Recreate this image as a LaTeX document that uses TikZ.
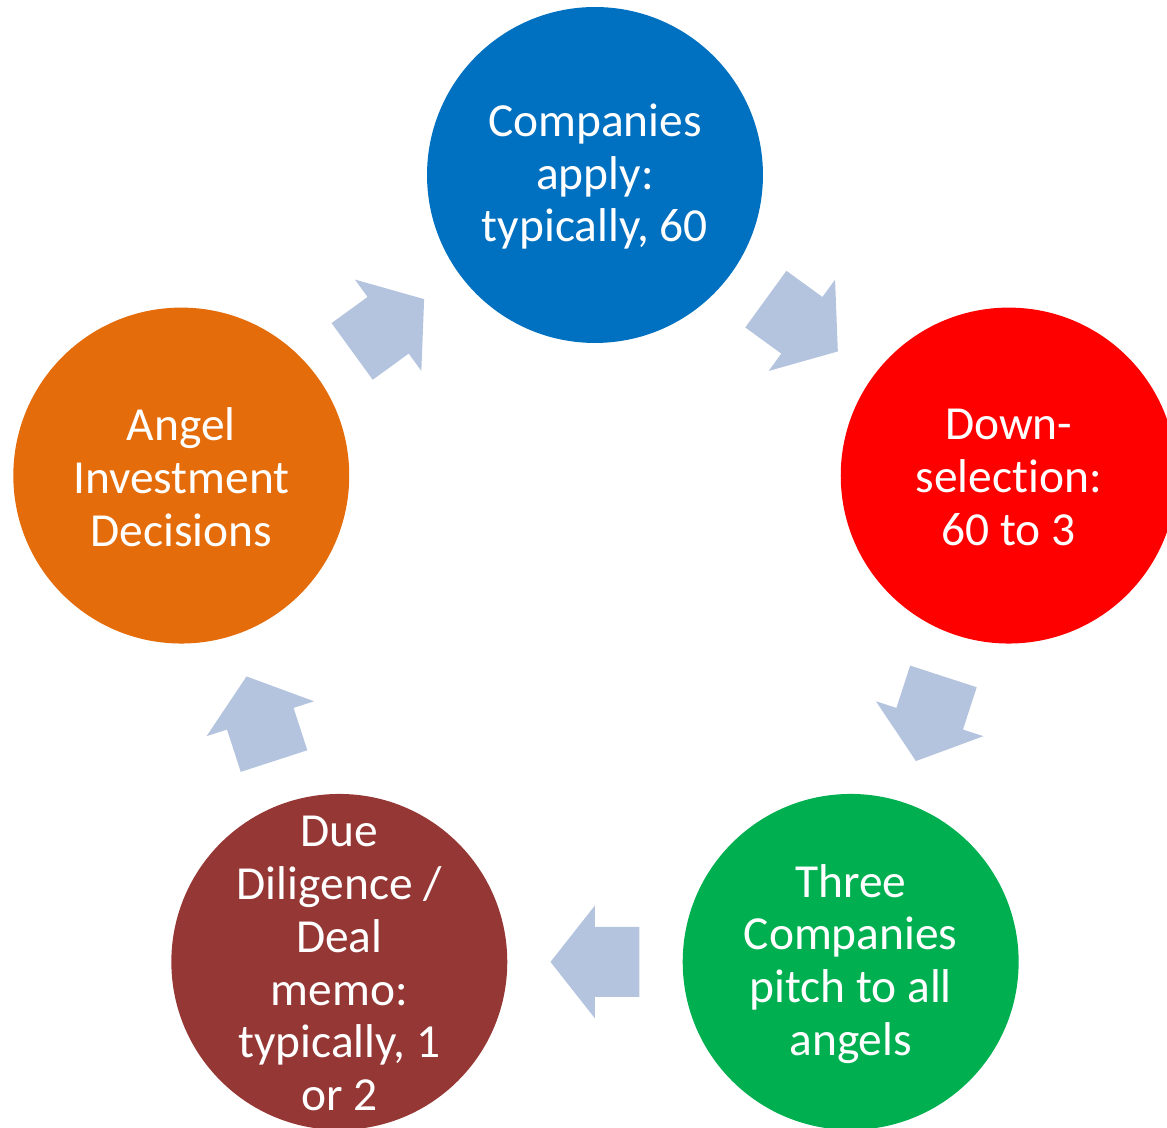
\documentclass[tikz,border=0pt]{standalone}
\usepackage{fontspec}
\setmainfont[Ligatures=NoCommon]{Carlito}
\usetikzlibrary{calc}
\definecolor{applyColor}{RGB}{0,112,192}
\definecolor{selectColor}{RGB}{255,0,0}
\definecolor{pitchColor}{RGB}{0,176,80}
\definecolor{diligenceColor}{RGB}{149,55,53}
\definecolor{angelColor}{RGB}{228,108,10}
\definecolor{arrowColor}{RGB}{180,196,222}
\tikzstyle{slide} = [x = 0.02cm, y = 0.02cm]
\tikzstyle{stepCircle} = [circle, minimum size = 6.72cm, inner sep = 0pt]
\tikzstyle{stepText} = [text = white, align = center, inner sep = 0pt, yshift = -1pt, font = \fontsize{27}{30}\selectfont]
\tikzstyle{arrowStyle} = [fill = arrowColor]
\newcommand{\pentR}{435}
\newcommand{\cycleArrow}[3]{\fill [arrowStyle, shift = {($(#1)!0.5!(#2)$)}, rotate = #3] (-44.5, 35) -- (0, 35) -- (0, 56.5) -- (44.5, 0) -- (0, -56.5) -- (0, -35) -- (-44.5, -35) -- cycle;}

\begin{document}
\begin{tikzpicture}[slide]
  \useasboundingbox (-595, -518) rectangle (572, 610);
  \node [stepCircle, fill = applyColor] (apply) at (90:\pentR) {};
  \node [stepCircle, fill = selectColor] (select) at (18:\pentR) {};
  \node [stepCircle, fill = pitchColor] (pitch) at (-54:\pentR) {};
  \node [stepCircle, fill = diligenceColor] (diligence) at (-126:\pentR) {};
  \node [stepCircle, fill = angelColor] (angel) at (162:\pentR) {};

  \node [stepText] (applyText) at (apply) {Companies\\apply:\\typically, 60};
  \node [stepText] (selectText) at (select) {Down-\\selection:\\60 to 3};
  \node [stepText] (pitchText) at (pitch) {Three\\Companies\\pitch to all\\angels};
  \node [stepText] (diligenceText) at (diligence) {Due\\Diligence /\\Deal\\memo:\\typically, 1\\or 2};
  \node [stepText] (angelText) at (angel) {Angel\\Investment\\Decisions};

  \cycleArrow{apply}{select}{-36}
  \cycleArrow{select}{pitch}{-108}
  \cycleArrow{pitch}{diligence}{180}
  \cycleArrow{diligence}{angel}{108}
  \cycleArrow{angel}{apply}{36}
\end{tikzpicture}
\end{document}
